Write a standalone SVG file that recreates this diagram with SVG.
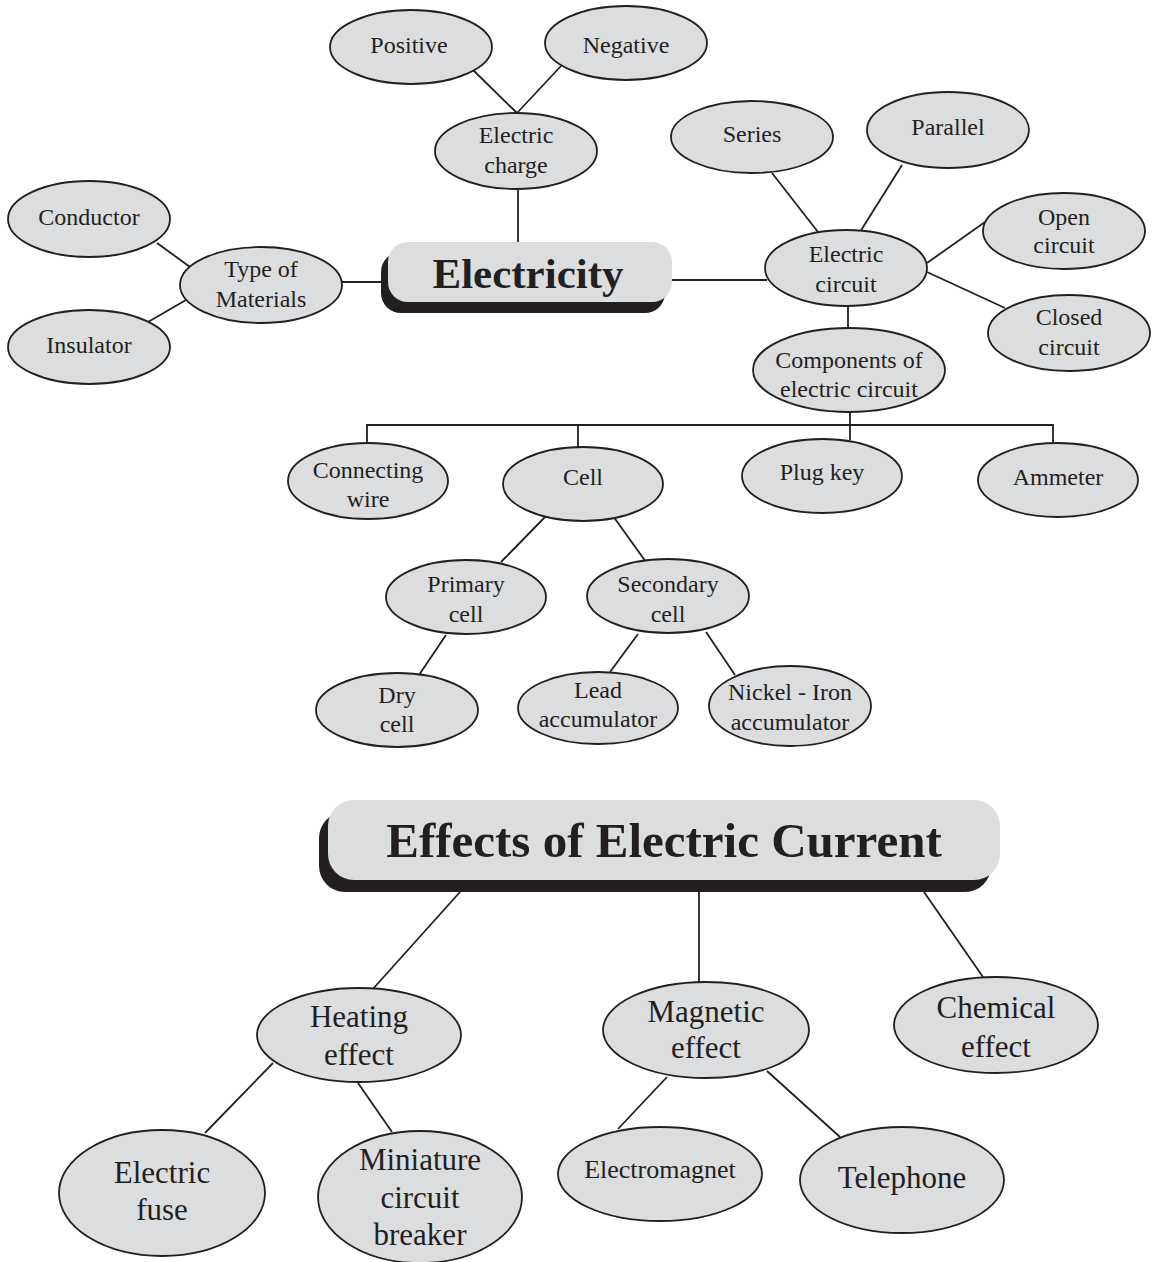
<svg xmlns="http://www.w3.org/2000/svg" width="1154" height="1262" viewBox="0 0 1154 1262" font-family="Liberation Serif, Tinos, DejaVu Serif, serif">
<style>
.n ellipse{fill:#dcdddf;stroke:#231f20;stroke-width:1.8}
.c line,.c polyline{stroke:#231f20;stroke-width:1.8;fill:none}
text{font-family:'Liberation Serif','DejaVu Serif',serif;fill:#231f20;text-anchor:middle}
.s{font-size:24px}
.m{font-size:26px}
.l{font-size:31px}
.t{font-weight:bold}
.box{fill:#dcdddf}
.sh{fill:#231f20}
</style>
<rect width="1154" height="1262" fill="#ffffff"/>
<g id="connectors" class="c">
<line x1="473" y1="70" x2="517" y2="113"/>
<line x1="561" y1="66" x2="517" y2="113"/>
<line x1="518" y1="190" x2="518" y2="243"/>
<line x1="157" y1="243" x2="190" y2="267"/>
<line x1="148" y1="322" x2="186" y2="300"/>
<line x1="342" y1="282" x2="383" y2="282"/>
<line x1="672" y1="280" x2="767" y2="280"/>
<line x1="772" y1="173" x2="818" y2="232"/>
<line x1="902" y1="165" x2="860" y2="232"/>
<line x1="985" y1="222" x2="927" y2="263"/>
<line x1="927" y1="272" x2="1005" y2="308"/>
<line x1="848" y1="305" x2="848" y2="329"/>
<line x1="850" y1="411" x2="850" y2="440"/>
<polyline points="367,444 367,425 1053,425 1053,444"/>
<line x1="578" y1="425" x2="578" y2="447"/>
<line x1="547" y1="515" x2="501" y2="562"/>
<line x1="613" y1="516" x2="646" y2="562"/>
<line x1="446" y1="635" x2="419" y2="675"/>
<line x1="638" y1="634" x2="610" y2="672"/>
<line x1="706" y1="632" x2="735" y2="675"/>
<line x1="460" y1="892" x2="372" y2="990"/>
<line x1="699" y1="892" x2="699" y2="983"/>
<line x1="924" y1="892" x2="983" y2="977"/>
<line x1="273" y1="1063" x2="205" y2="1133"/>
<line x1="358" y1="1083" x2="392" y2="1132"/>
<line x1="667" y1="1077" x2="618" y2="1129"/>
<line x1="767" y1="1071" x2="840" y2="1137"/>
</g>
<g id="electricity">
<rect class="sh" x="381" y="252" width="284" height="61" rx="20"/>
<rect class="box" x="388" y="242" width="284" height="60" rx="20"/>
<text class="t" x="528" y="288" font-size="43">Electricity</text>
</g>
<g id="effects">
<rect class="sh" x="319" y="812" width="672" height="80" rx="26"/>
<rect class="box" x="328" y="800" width="672" height="80" rx="26"/>
<text class="t" x="664" y="857" font-size="49">Effects of Electric Current</text>
</g>
<g id="positive" class="n"><ellipse cx="411" cy="47" rx="81" ry="37"/><text class="s" x="409" y="53">Positive</text></g>
<g id="negative" class="n"><ellipse cx="626" cy="43" rx="81" ry="37"/><text class="s" x="626" y="53">Negative</text></g>
<g id="electric-charge" class="n"><ellipse cx="516" cy="151" rx="81" ry="38"/><text class="s" x="516" y="143">Electric</text><text class="s" x="516" y="173">charge</text></g>
<g id="conductor" class="n"><ellipse cx="89" cy="219" rx="81" ry="38"/><text class="s" x="89" y="225">Conductor</text></g>
<g id="type-of-materials" class="n"><ellipse cx="261" cy="285" rx="81" ry="38"/><text class="s" x="261" y="277">Type of</text><text class="s" x="261" y="307">Materials</text></g>
<g id="insulator" class="n"><ellipse cx="89" cy="347" rx="81" ry="37"/><text class="s" x="89" y="353">Insulator</text></g>
<g id="series" class="n"><ellipse cx="752" cy="137" rx="81" ry="36"/><text class="s" x="752" y="142">Series</text></g>
<g id="parallel" class="n"><ellipse cx="948" cy="130" rx="81" ry="38"/><text class="s" x="948" y="135">Parallel</text></g>
<g id="electric-circuit" class="n"><ellipse cx="846" cy="268" rx="81" ry="38"/><text class="s" x="846" y="262">Electric</text><text class="s" x="846" y="292">circuit</text></g>
<g id="open-circuit" class="n"><ellipse cx="1064" cy="231" rx="81" ry="38"/><text class="s" x="1064" y="225">Open</text><text class="s" x="1064" y="253">circuit</text></g>
<g id="closed-circuit" class="n"><ellipse cx="1069" cy="333" rx="81" ry="38"/><text class="s" x="1069" y="325">Closed</text><text class="s" x="1069" y="355">circuit</text></g>
<g id="components" class="n"><ellipse cx="849" cy="370" rx="96" ry="42"/><text class="s" x="849" y="368">Components of</text><text class="s" x="849" y="397">electric circuit</text></g>
<g id="connecting-wire" class="n"><ellipse cx="368" cy="481" rx="80" ry="38"/><text class="s" x="368" y="478">Connecting</text><text class="s" x="368" y="507">wire</text></g>
<g id="cell" class="n"><ellipse cx="583" cy="484" rx="80" ry="37"/><text class="s" x="583" y="485">Cell</text></g>
<g id="plug-key" class="n"><ellipse cx="822" cy="476" rx="80" ry="37"/><text class="s" x="822" y="480">Plug key</text></g>
<g id="ammeter" class="n"><ellipse cx="1058" cy="480" rx="80" ry="37"/><text class="s" x="1058" y="485">Ammeter</text></g>
<g id="primary-cell" class="n"><ellipse cx="466" cy="597" rx="80" ry="37"/><text class="s" x="466" y="592">Primary</text><text class="s" x="466" y="622">cell</text></g>
<g id="secondary-cell" class="n"><ellipse cx="668" cy="596" rx="81" ry="37"/><text class="s" x="668" y="592">Secondary</text><text class="s" x="668" y="622">cell</text></g>
<g id="dry-cell" class="n"><ellipse cx="397" cy="710" rx="81" ry="37"/><text class="s" x="397" y="703">Dry</text><text class="s" x="397" y="732">cell</text></g>
<g id="lead-accumulator" class="n"><ellipse cx="598" cy="708" rx="80" ry="36"/><text class="s" x="598" y="698">Lead</text><text class="s" x="598" y="727">accumulator</text></g>
<g id="nickel-iron" class="n"><ellipse cx="790" cy="706" rx="81" ry="40"/><text class="s" x="790" y="700">Nickel - Iron</text><text class="s" x="790" y="730">accumulator</text></g>
<g id="heating-effect" class="n"><ellipse cx="359" cy="1035" rx="102" ry="47"/><text class="l" x="359" y="1027">Heating</text><text class="l" x="359" y="1065">effect</text></g>
<g id="magnetic-effect" class="n"><ellipse cx="706" cy="1030" rx="103" ry="48"/><text class="l" x="706" y="1022">Magnetic</text><text class="l" x="706" y="1058">effect</text></g>
<g id="chemical-effect" class="n"><ellipse cx="996" cy="1025" rx="102" ry="48"/><text class="l" x="996" y="1018">Chemical</text><text class="l" x="996" y="1057">effect</text></g>
<g id="electric-fuse" class="n"><ellipse cx="162" cy="1193" rx="103" ry="63"/><text class="l" x="162" y="1183">Electric</text><text class="l" x="162" y="1220">fuse</text></g>
<g id="mcb" class="n"><ellipse cx="420" cy="1197" rx="102" ry="66"/><text class="l" x="420" y="1170">Miniature</text><text class="l" x="420" y="1208">circuit</text><text class="l" x="420" y="1245">breaker</text></g>
<g id="electromagnet" class="n"><ellipse cx="660" cy="1174" rx="102" ry="47"/><text class="m" x="660" y="1178">Electromagnet</text></g>
<g id="telephone" class="n"><ellipse cx="902" cy="1180" rx="102" ry="53"/><text class="l" x="902" y="1188">Telephone</text></g>
</svg>
